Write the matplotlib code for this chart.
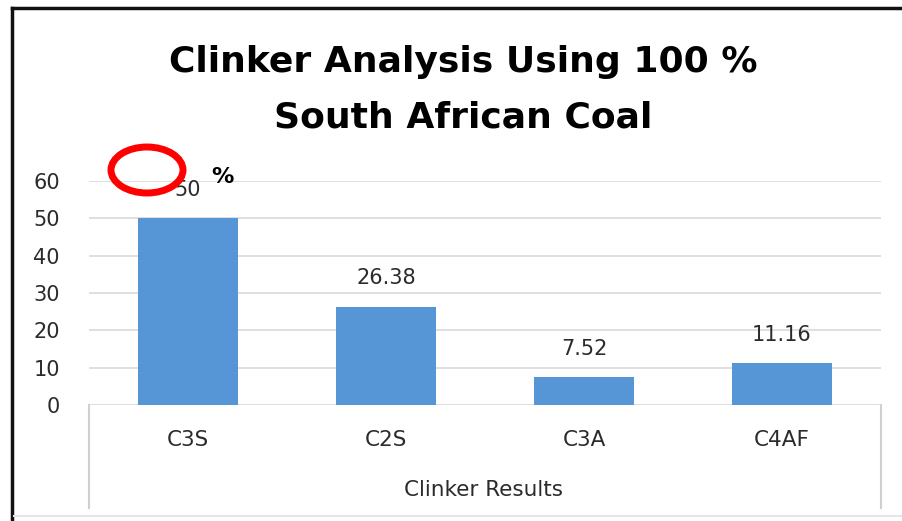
import matplotlib.pyplot as plt
from matplotlib.patches import Ellipse
from matplotlib.lines import Line2D

categories = ['C3S', 'C2S', 'C3A', 'C4AF']
values = [50, 26.38, 7.52, 11.16]
value_labels = ['50', '26.38', '7.52', '11.16']
yticks = [0, 10, 20, 30, 40, 50, 60]

plt.rcParams['font.family'] = ['DejaVu Sans']

W, H = 903, 521
fig = plt.figure(figsize=(W / 100, H / 100), dpi=100)

def fx(px):
    return px / W

def fy(py):
    return 1 - py / H

txt = '#2b2b2b'

ax = fig.add_axes([fx(89), fy(405), fx(881) - fx(89), fy(181) - fy(405)])
ax.bar(range(len(values)), values, width=0.51, color='#5796d6', zorder=3)
ax.set_xlim(-0.5, len(values) - 0.5)
ax.set_ylim(0, 60)
ax.set_yticks(yticks)
ax.set_yticklabels([str(t) for t in yticks], fontsize=15, color=txt)
ax.tick_params(axis='y', length=0, pad=21)
ax.set_xticks([])
ax.grid(axis='y', color='#d9d9d9', lw=1.2, zorder=0)
for s in ax.spines.values():
    s.set_visible(False)

for i, (v, lab) in enumerate(zip(values, value_labels)):
    ax.annotate(lab, (i, v), xytext=(0, 16), textcoords='offset points',
                ha='center', va='baseline', fontsize=15, color=txt)

# category box under the axis
for x in (89, 881):
    fig.add_artist(Line2D([fx(x), fx(x)], [fy(405), fy(508)], color='#d0d0d0', lw=1.5))
for i, c in enumerate(categories):
    fig.text(fx(89 + 198 * (i + 0.5)), fy(440), c, ha='center', va='center',
             fontsize=15.5, color=txt)
fig.text(fx(484), fy(490), 'Clinker Results', ha='center', va='center',
         fontsize=15.5, color=txt)

fig.text(fx(463), fy(62), 'Clinker Analysis Using 100 %', ha='center', va='center',
         fontsize=26, fontweight='bold')
fig.text(fx(463), fy(117), 'South African Coal', ha='center', va='center',
         fontsize=26, fontweight='bold')

# annotation marks
fig.add_artist(Ellipse((fx(147), fy(170)), fx(72), 46 / H, fill=False,
                       edgecolor='red', lw=5))
fig.text(fx(222), fy(177), '%', ha='center', va='center', fontsize=16,
         fontweight='bold')

# outer frame (left and top)
fig.add_artist(Line2D([fx(12), fx(12)], [fy(8), 0], color='#111111', lw=2.5))
fig.add_artist(Line2D([fx(12), 1], [fy(8), fy(8)], color='#111111', lw=2.5))
fig.add_artist(Line2D([fx(14), 1], [fy(516), fy(516)], color='#e6e6e6', lw=1.5))

fig.savefig('out.png', dpi=100)
